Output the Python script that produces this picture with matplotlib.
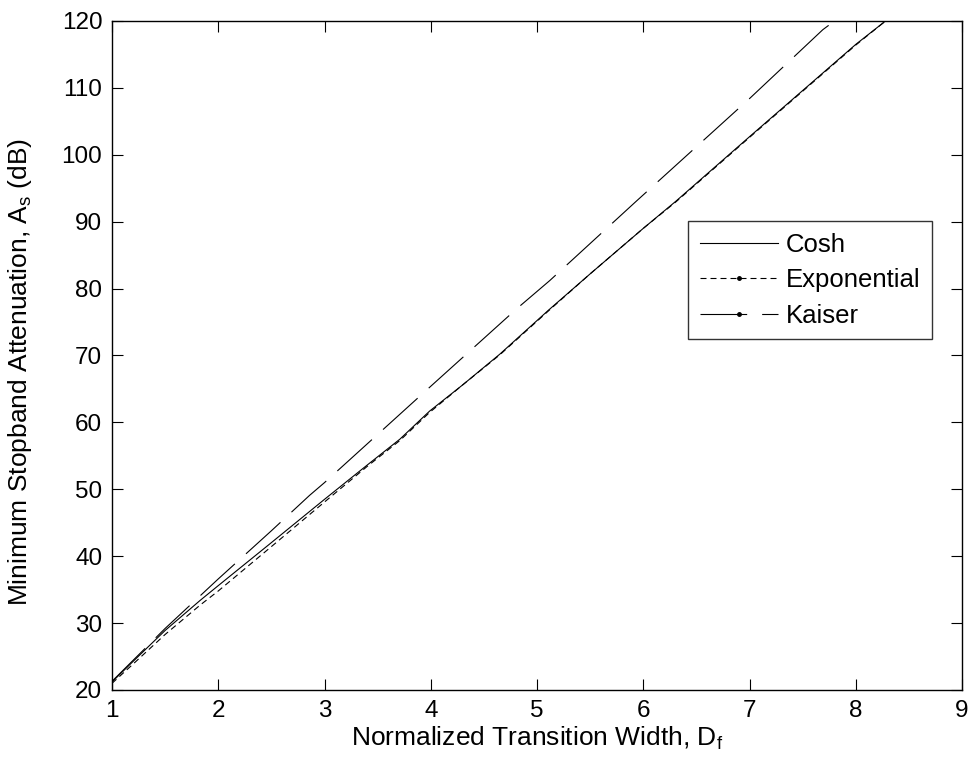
import matplotlib
matplotlib.use("Agg")
import matplotlib.pyplot as plt
from matplotlib.lines import Line2D

plt.rcParams["font.family"] = ["Liberation Sans", "DejaVu Sans"]
plt.rcParams["mathtext.fontset"] = "custom"
plt.rcParams["mathtext.rm"] = "Liberation Sans"
plt.rcParams["mathtext.it"] = "Liberation Sans"

# Normalized transition width vs. minimum stopband attenuation
cosh_D = [1.0, 1.2, 1.5, 1.83, 2.0, 2.49, 3.0, 3.4, 3.71, 3.99, 4.3, 4.65, 5.11, 5.5, 6.0, 6.31, 7.0, 7.5, 8.0, 8.28]
cosh_As = [21.2, 24.3, 28.9, 33.4, 35.6, 41.9, 48.5, 53.6, 57.5, 61.7, 65.6, 70.2, 76.8, 82.2, 89.0, 93.1, 102.7, 109.6, 116.5, 120.0]

expo_D = [1.0, 1.2, 1.5, 1.83, 2.0, 2.49, 3.0, 3.4, 3.71, 3.99, 4.3, 4.65, 5.11, 5.5, 6.0, 6.31, 7.0, 7.5, 8.0, 8.28]
expo_As = [21.0, 23.9, 28.3, 32.7, 34.8, 41.3, 48.1, 53.4, 57.3, 61.5, 65.6, 70.1, 76.7, 82.2, 89.0, 93.0, 102.6, 109.5, 116.4, 120.0]

kaiser_D = [1.0, 1.5, 2.0, 2.5, 2.86, 3.0, 4.0, 4.81, 5.12, 5.93, 7.0, 7.69, 7.8]
kaiser_As = [21.3, 29.2, 36.6, 43.8, 49.1, 51.0, 65.4, 77.0, 81.2, 93.0, 108.4, 118.7, 120.0]

x_ticks = [1, 2, 3, 4, 5, 6, 7, 8, 9]
y_ticks = [20, 30, 40, 50, 60, 70, 80, 90, 100, 110, 120]

TICK_FS = 17.5
LABEL_FS = 19
LEGEND_FS = 18.5
LW = 0.8
SHORT_DASH = (0, (5.4, 3.6))
LONG_DASH = (0, (42.0, 13.5))

fig = plt.figure(figsize=(9.71, 7.62), dpi=100)
ax = fig.add_axes([112 / 971, 1 - 690 / 762, 850 / 971, 669 / 762])

ax.plot(cosh_D, cosh_As, color="black", lw=LW)
ax.plot(expo_D, expo_As, color="black", lw=LW, linestyle=SHORT_DASH)
ax.plot(kaiser_D, kaiser_As, color="black", lw=LW, linestyle=LONG_DASH)

ax.set_xlim(1, 9)
ax.set_ylim(20, 120)
ax.set_xticks(x_ticks)
ax.set_yticks(y_ticks)
ax.tick_params(direction="in", length=8, width=0.8, top=True, right=True,
               labelsize=TICK_FS, pad=7, colors="black")
for s in ax.spines.values():
    s.set_linewidth(1.0)
    s.set_color("black")

ax.set_xlabel(r"Normalized Transition Width, D$_\mathregular{f}$", fontsize=LABEL_FS)
ax.set_ylabel(r"Minimum Stopband Attenuation, A$_\mathregular{s}$ (dB)", fontsize=LABEL_FS)
ax.xaxis.set_label_coords(0.5, -0.052)
ax.yaxis.set_label_coords(-0.092, 0.475)

handles = [
    Line2D([], [], color="black", lw=LW),
    Line2D([], [], color="black", lw=LW, linestyle=SHORT_DASH, marker=".", markersize=5),
    Line2D([], [], color="black", lw=LW, linestyle=LONG_DASH, marker=".", markersize=5),
]
leg = ax.legend(handles, ["Cosh", "Exponential", "Kaiser"], loc="upper left",
                bbox_to_anchor=((688 - 112) / 850, (690 - 221) / 669),
                fontsize=LEGEND_FS, frameon=True, fancybox=False, shadow=False,
                handlelength=3.05, handletextpad=0.3, borderpad=0.45,
                labelspacing=0.45, borderaxespad=0.0)
leg.get_frame().set_edgecolor("black")
leg.get_frame().set_linewidth(1.0)

fig.savefig("out.png", dpi=100)
